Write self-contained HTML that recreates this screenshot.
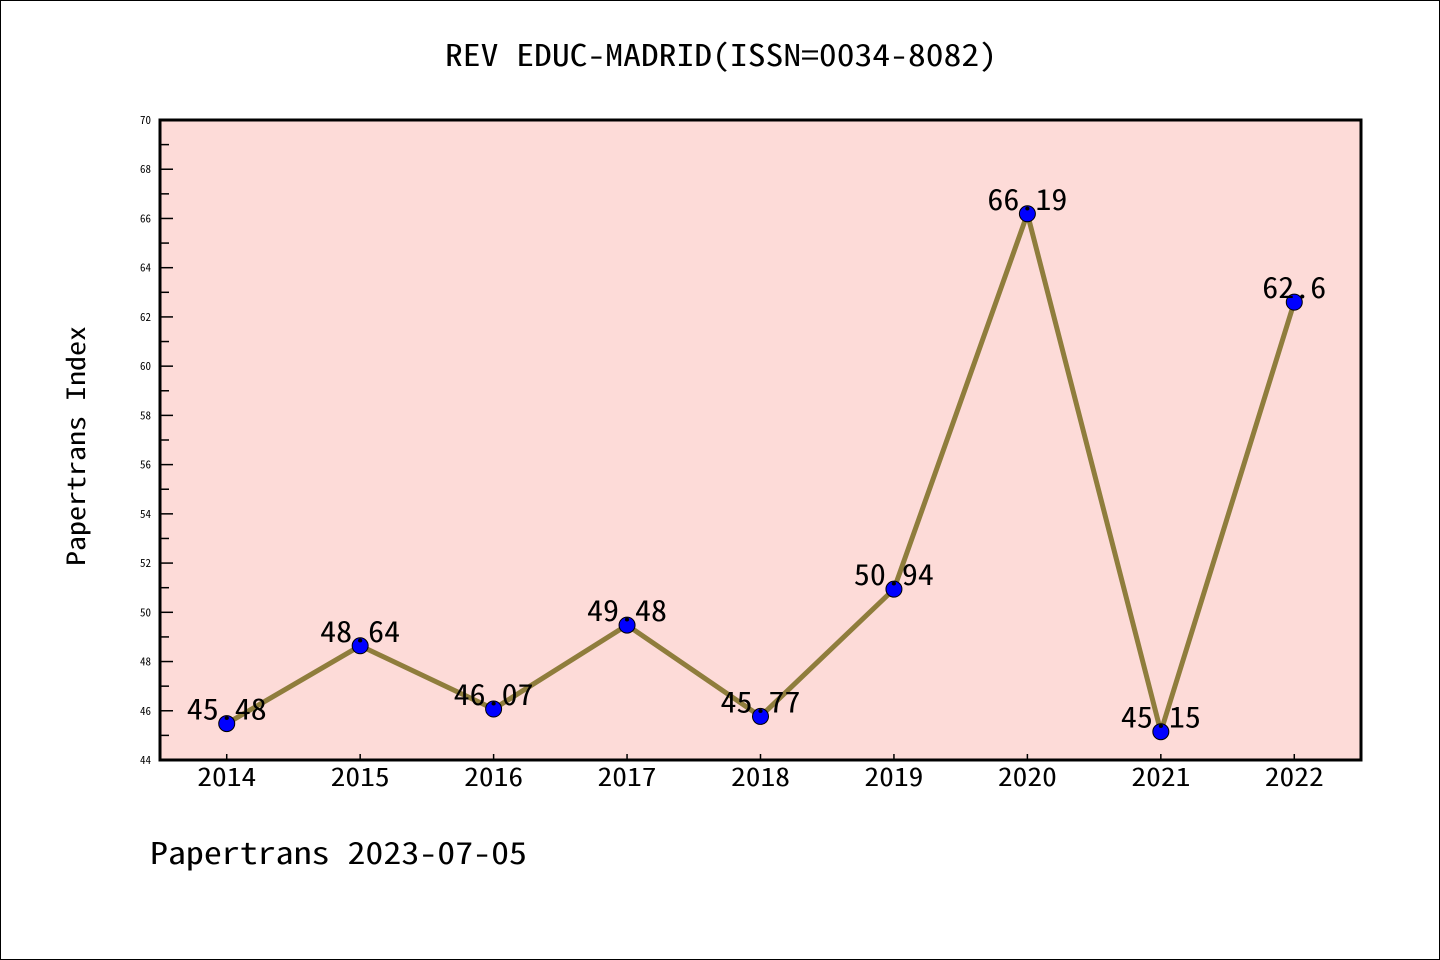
<!DOCTYPE html>
<html><head><meta charset="utf-8"><style>
body{margin:0;background:#fff}
svg{display:block}
text{font-family:"WenQuanYi Zen Hei Mono","WenQuanYi Zen Hei","Noto Sans Mono CJK SC","Liberation Mono",monospace}
</style></head><body>
<svg id="c" width="1440" height="960" xmlns="http://www.w3.org/2000/svg">
<rect x="0.5" y="0.5" width="1439" height="959" fill="#fff" stroke="#000"/>
<text x="445" y="66" font-size="30" textLength="552" lengthAdjust="spacingAndGlyphs">REV EDUC-MADRID(ISSN=0034-8082)</text>
<rect x="160" y="120" width="1201" height="640" fill="#fddbd8"/>
<g id="yax"></g>
<g id="xax"></g>
<g id="series"></g>
<rect x="160" y="120" width="1201" height="640" fill="none" stroke="#000" stroke-width="3"/>
<text transform="translate(85,566) rotate(-90)" font-size="25" textLength="240" lengthAdjust="spacingAndGlyphs">Papertrans Index</text>
<text x="150" y="864" font-size="30" textLength="377" lengthAdjust="spacingAndGlyphs">Papertrans 2023-07-05</text>
</svg>
<script>
const categories=["2014","2015","2016","2017","2018","2019","2020","2021","2022"];
const values=[45.48,48.64,46.07,49.48,45.77,50.94,66.19,45.15,62.6];
const labels=["45.48","48.64","46.07","49.48","45.77","50.94","66.19","45.15","62.6"];
const yTicks=[44,46,48,50,52,54,56,58,60,62,64,66,68,70];
const NS="http://www.w3.org/2000/svg";
const L=160,R=1361,T=120,B=760,ymin=44,ymax=70;
const x=i=>L+(i+0.5)*(R-L)/categories.length;
const y=v=>B-(v-ymin)/(ymax-ymin)*(B-T);
function mk(tag,at,parent,txt){const e=document.createElementNS(NS,tag);for(const k in at)e.setAttribute(k,at[k]);if(txt!=null)e.textContent=txt;parent.appendChild(e);return e;}
const yax=document.getElementById('yax'),xax=document.getElementById('xax'),ser=document.getElementById('series');
yTicks.forEach(v=>{
 const t=mk('line',{x1:L,x2:L+13,y1:y(v),y2:y(v),stroke:'#000','stroke-width':1.5},yax);
 
 
 const lb=mk('text',{x:151,y:y(v)+4,'font-size':11,'text-anchor':'end'},yax,String(v));
 
 
 if(v<ymax){const m=mk('line',{x1:L,x2:L+9,y1:y(v+1),y2:y(v+1),stroke:'#000','stroke-width':1.5},yax);
 
 }
});
categories.forEach((c,i)=>{
 const t=mk('line',{x1:x(i),x2:x(i),y1:B,y2:B-6,stroke:'#000','stroke-width':1.5},xax);
 
 
 const lb=mk('text',{x:x(i),y:786,'font-size':25,'text-anchor':'middle',textLength:59,lengthAdjust:'spacingAndGlyphs'},xax,c);
 
 
});
const pl=mk('polyline',{points:values.map((v,i)=>x(i)+','+y(v)).join(' '),fill:'none',stroke:'#8f7d3c','stroke-width':5,'stroke-linejoin':'round'},ser);


values.forEach((v,i)=>{
 const p=mk('circle',{cx:x(i),cy:y(v),r:8,fill:'#0000ff',stroke:'#000','stroke-width':1},ser);
 
 
 const lb=mk('text',{x:x(i),y:y(v)-4,'font-size':29,'text-anchor':'middle',textLength:labels[i].length*16,lengthAdjust:'spacingAndGlyphs'},ser,labels[i]);
 
 
});
</script>
</body></html>
